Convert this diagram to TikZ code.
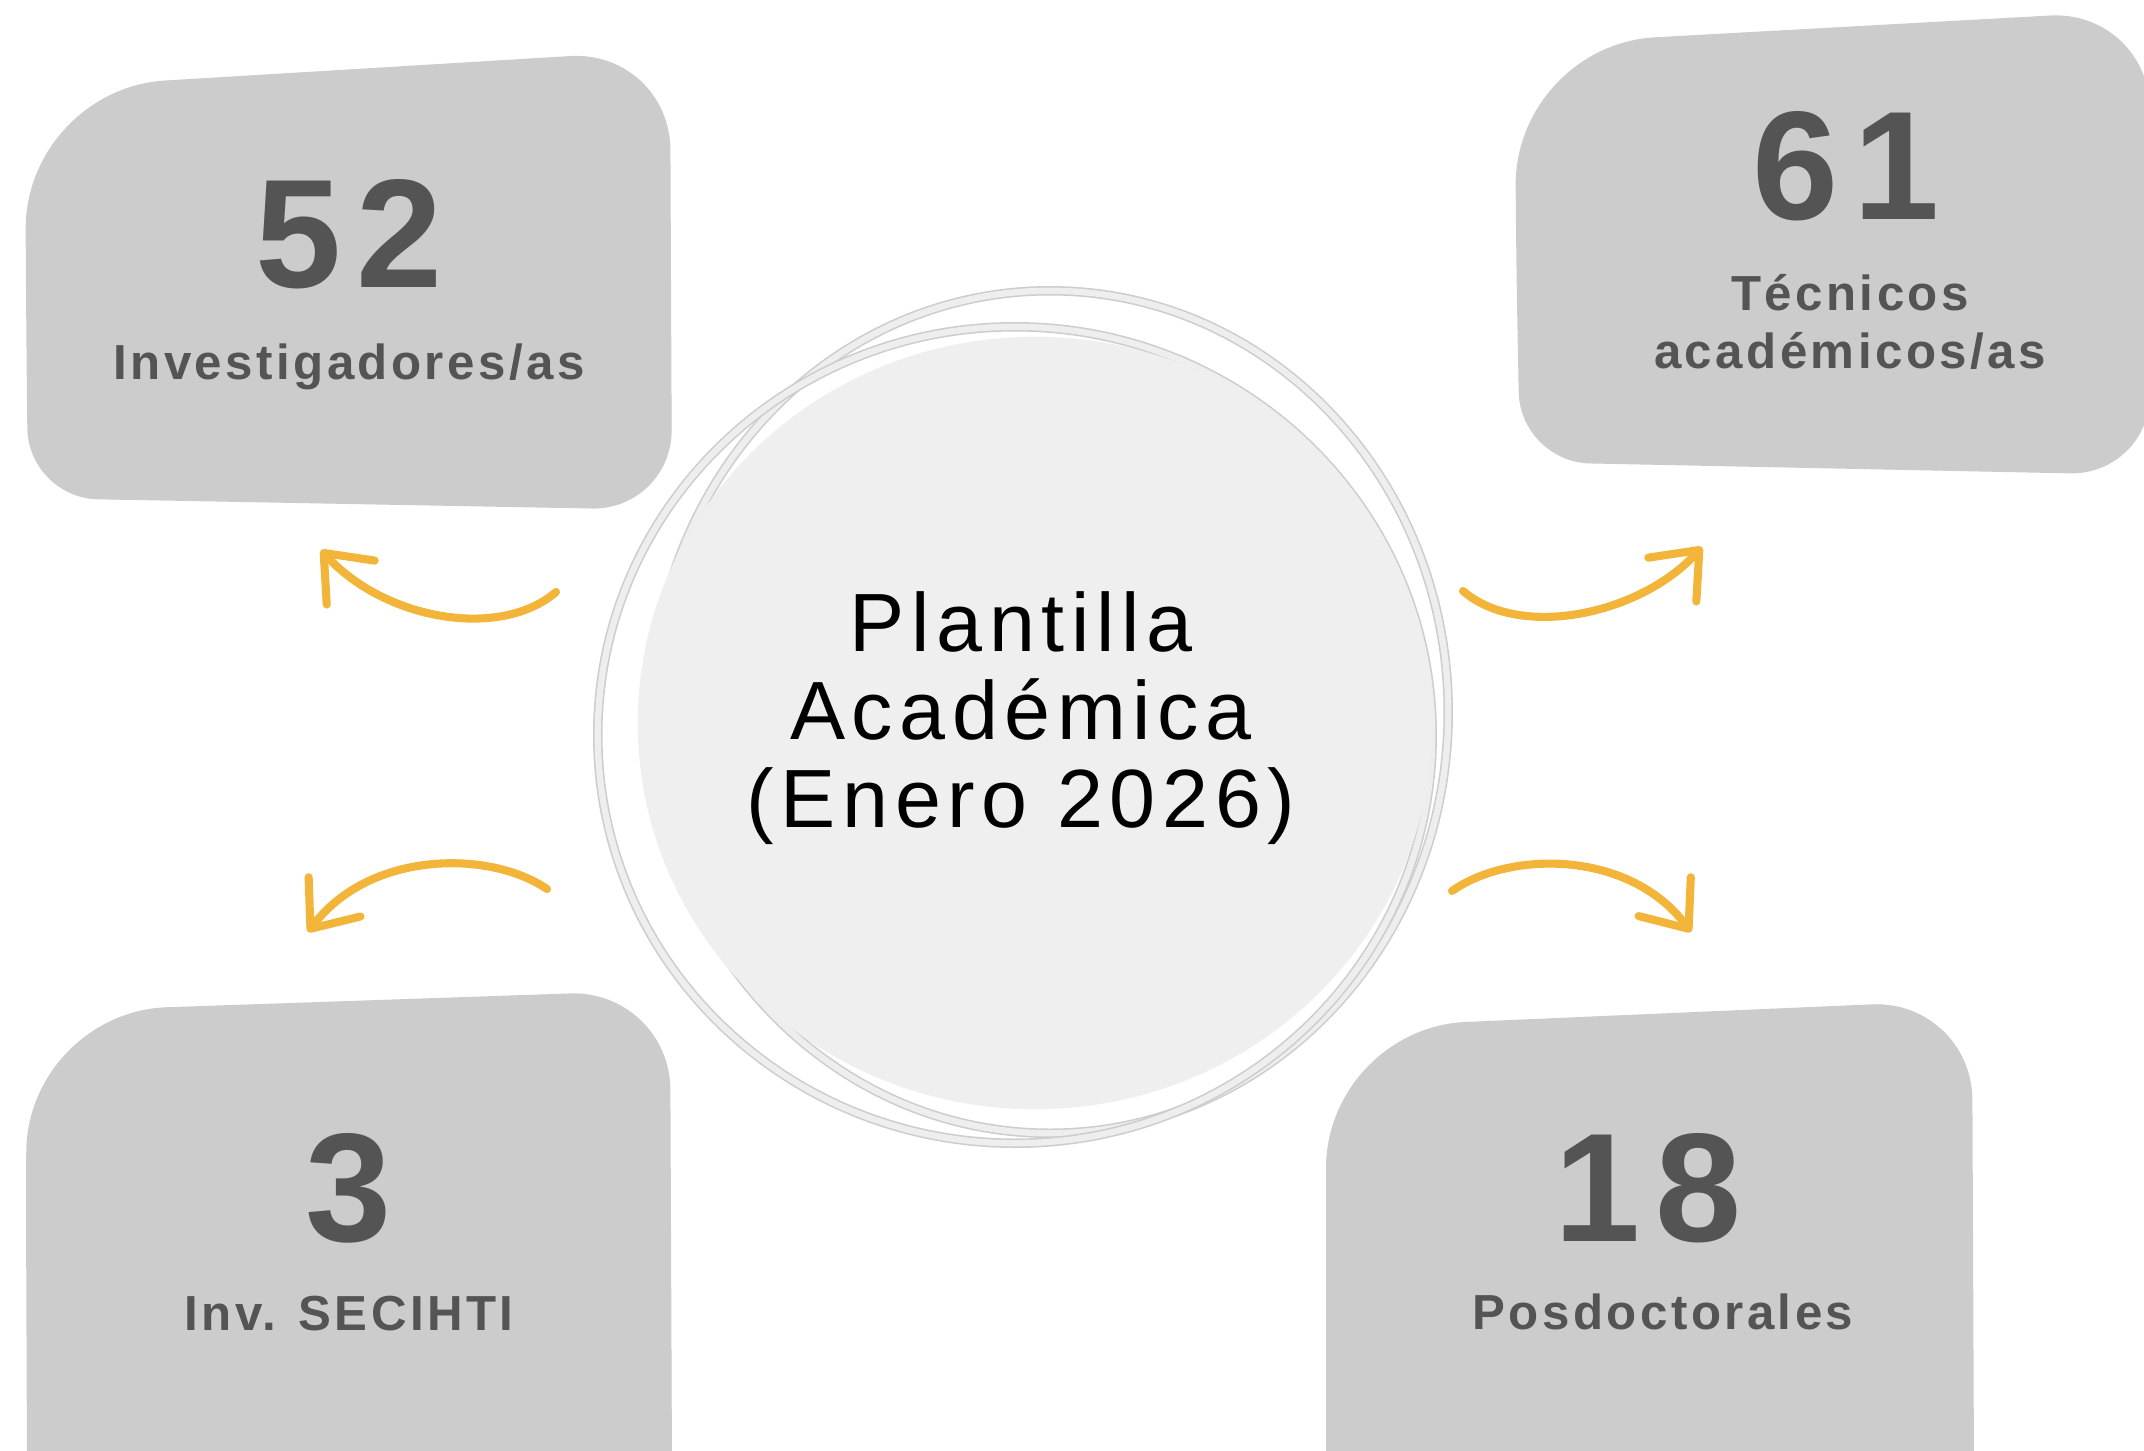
\documentclass[tikz,border=0pt]{standalone}
\usepackage{fontspec}
\setmainfont{Liberation Sans}
\newfontfamily\titlefont[LetterSpace=8]{Liberation Sans}
\newfontfamily\countfont[LetterSpace=10]{Liberation Sans}
\newfontfamily\labelfont[LetterSpace=7]{Liberation Sans}
\usetikzlibrary{arrows.meta}
\definecolor{panelgrey}{HTML}{CCCCCC}
\definecolor{discgrey}{HTML}{EFEFEF}
\definecolor{ringedge}{HTML}{CDCDCD}
\definecolor{ringfill}{HTML}{EEEEEE}
\definecolor{inkgrey}{HTML}{545454}
\definecolor{arcgold}{HTML}{F2B53A}

\begin{document}
\begin{tikzpicture}[
  x=0.01cm, y=-0.01cm,
  >={Straight Barb[length=4mm, width=6.5mm, line cap=round, line join=round]},
  panel/.style={fill=panelgrey},
  count/.style={font=\countfont\bfseries\fontsize{44}{44}\selectfont, text=inkgrey, anchor=base},
  caption/.style={font=\labelfont\bfseries\fontsize{14}{16.4}\selectfont, text=inkgrey, align=center},
  title/.style={font=\titlefont\fontsize{23.5}{25}\selectfont, text=black, align=center},
  ring/.style={draw=ringedge, line width=0.45pt, double=ringfill, double distance=1.8pt},
  flow/.style={->, draw=arcgold, line width=2.3pt, line cap=round},
]
\useasboundingbox (0,0) rectangle (2144,1450);
\clip (0,0) rectangle (2144,1450);
\fill[white] (0,0) rectangle (2144,1450);

% ---- grey panels ----
\fill[panel] (26,300) [rounded corners=1.4cm] -- (25,89) [rounded corners=1.0cm] -- (670,50)
  [rounded corners=0.8cm] -- (672,510) [rounded corners=0.7cm] -- (28,498) -- cycle;
\fill[panel] (1516,250) [rounded corners=1.4cm] -- (1515,45) [rounded corners=1.0cm] -- (2150,10)
  [rounded corners=0.8cm] -- (2150,475) [rounded corners=0.7cm] -- (1520,462) -- cycle;
\fill[panel] (26,1200) [rounded corners=1.4cm] -- (27,1012) [rounded corners=1.0cm] -- (670,990)
  [rounded corners=0cm] -- (672,1470) -- (27,1470) -- cycle;
\fill[panel] (1326,1200) [rounded corners=1.4cm] -- (1326,1028) [rounded corners=1.0cm] -- (1972,1000)
  [rounded corners=0cm] -- (1974,1470) -- (1326,1470) -- cycle;

% ---- loose rings, then the central disc over them ----
\draw[ring] (1050,712) ellipse (3.98cm and 4.21cm);
\draw[ring] (1015,735) ellipse (4.17cm and 4.08cm);
\fill[discgrey] (1035,723) ellipse (3.97cm and 3.86cm);
\node[title] (hub) at (1021,718) {Plantilla\\Académica\\(Enero 2026)};

% ---- counts and captions ----
\node[count] (n52) at (349,287) {52};
\node[caption, anchor=base] (l52) at (349,379) {Investigadores/as};
\node[count] (n61) at (1846,219) {61};
\node[caption] (l61) at (1850,322) {Técnicos\\académicos/as};
\node[count] (n3) at (349,1241) {3};
\node[caption, anchor=base] (l3) at (349,1330) {Inv. SECIHTI};
\node[count] (n18) at (1648,1241) {18};
\node[caption, anchor=base] (l18) at (1663,1329) {Posdoctorales};

% ---- curved arrows out of the disc ----
\coordinate (tlfrom) at (556,592);  \coordinate (tlto) at (321,550);
\coordinate (trfrom) at (1463,591); \coordinate (trto) at (1702,547);
\coordinate (blfrom) at (547,889);  \coordinate (blto) at (308,932);
\coordinate (brfrom) at (1452,891); \coordinate (brto) at (1691,932);
\draw[flow] (tlfrom) .. controls (500,640) and (385,620) .. (tlto);
\draw[flow] (trfrom) .. controls (1520,640) and (1640,615) .. (trto);
\draw[flow] (blfrom) .. controls (490,850) and (370,850) .. (blto);
\draw[flow] (brfrom) .. controls (1510,850) and (1630,850) .. (brto);

\end{tikzpicture}
\end{document}
